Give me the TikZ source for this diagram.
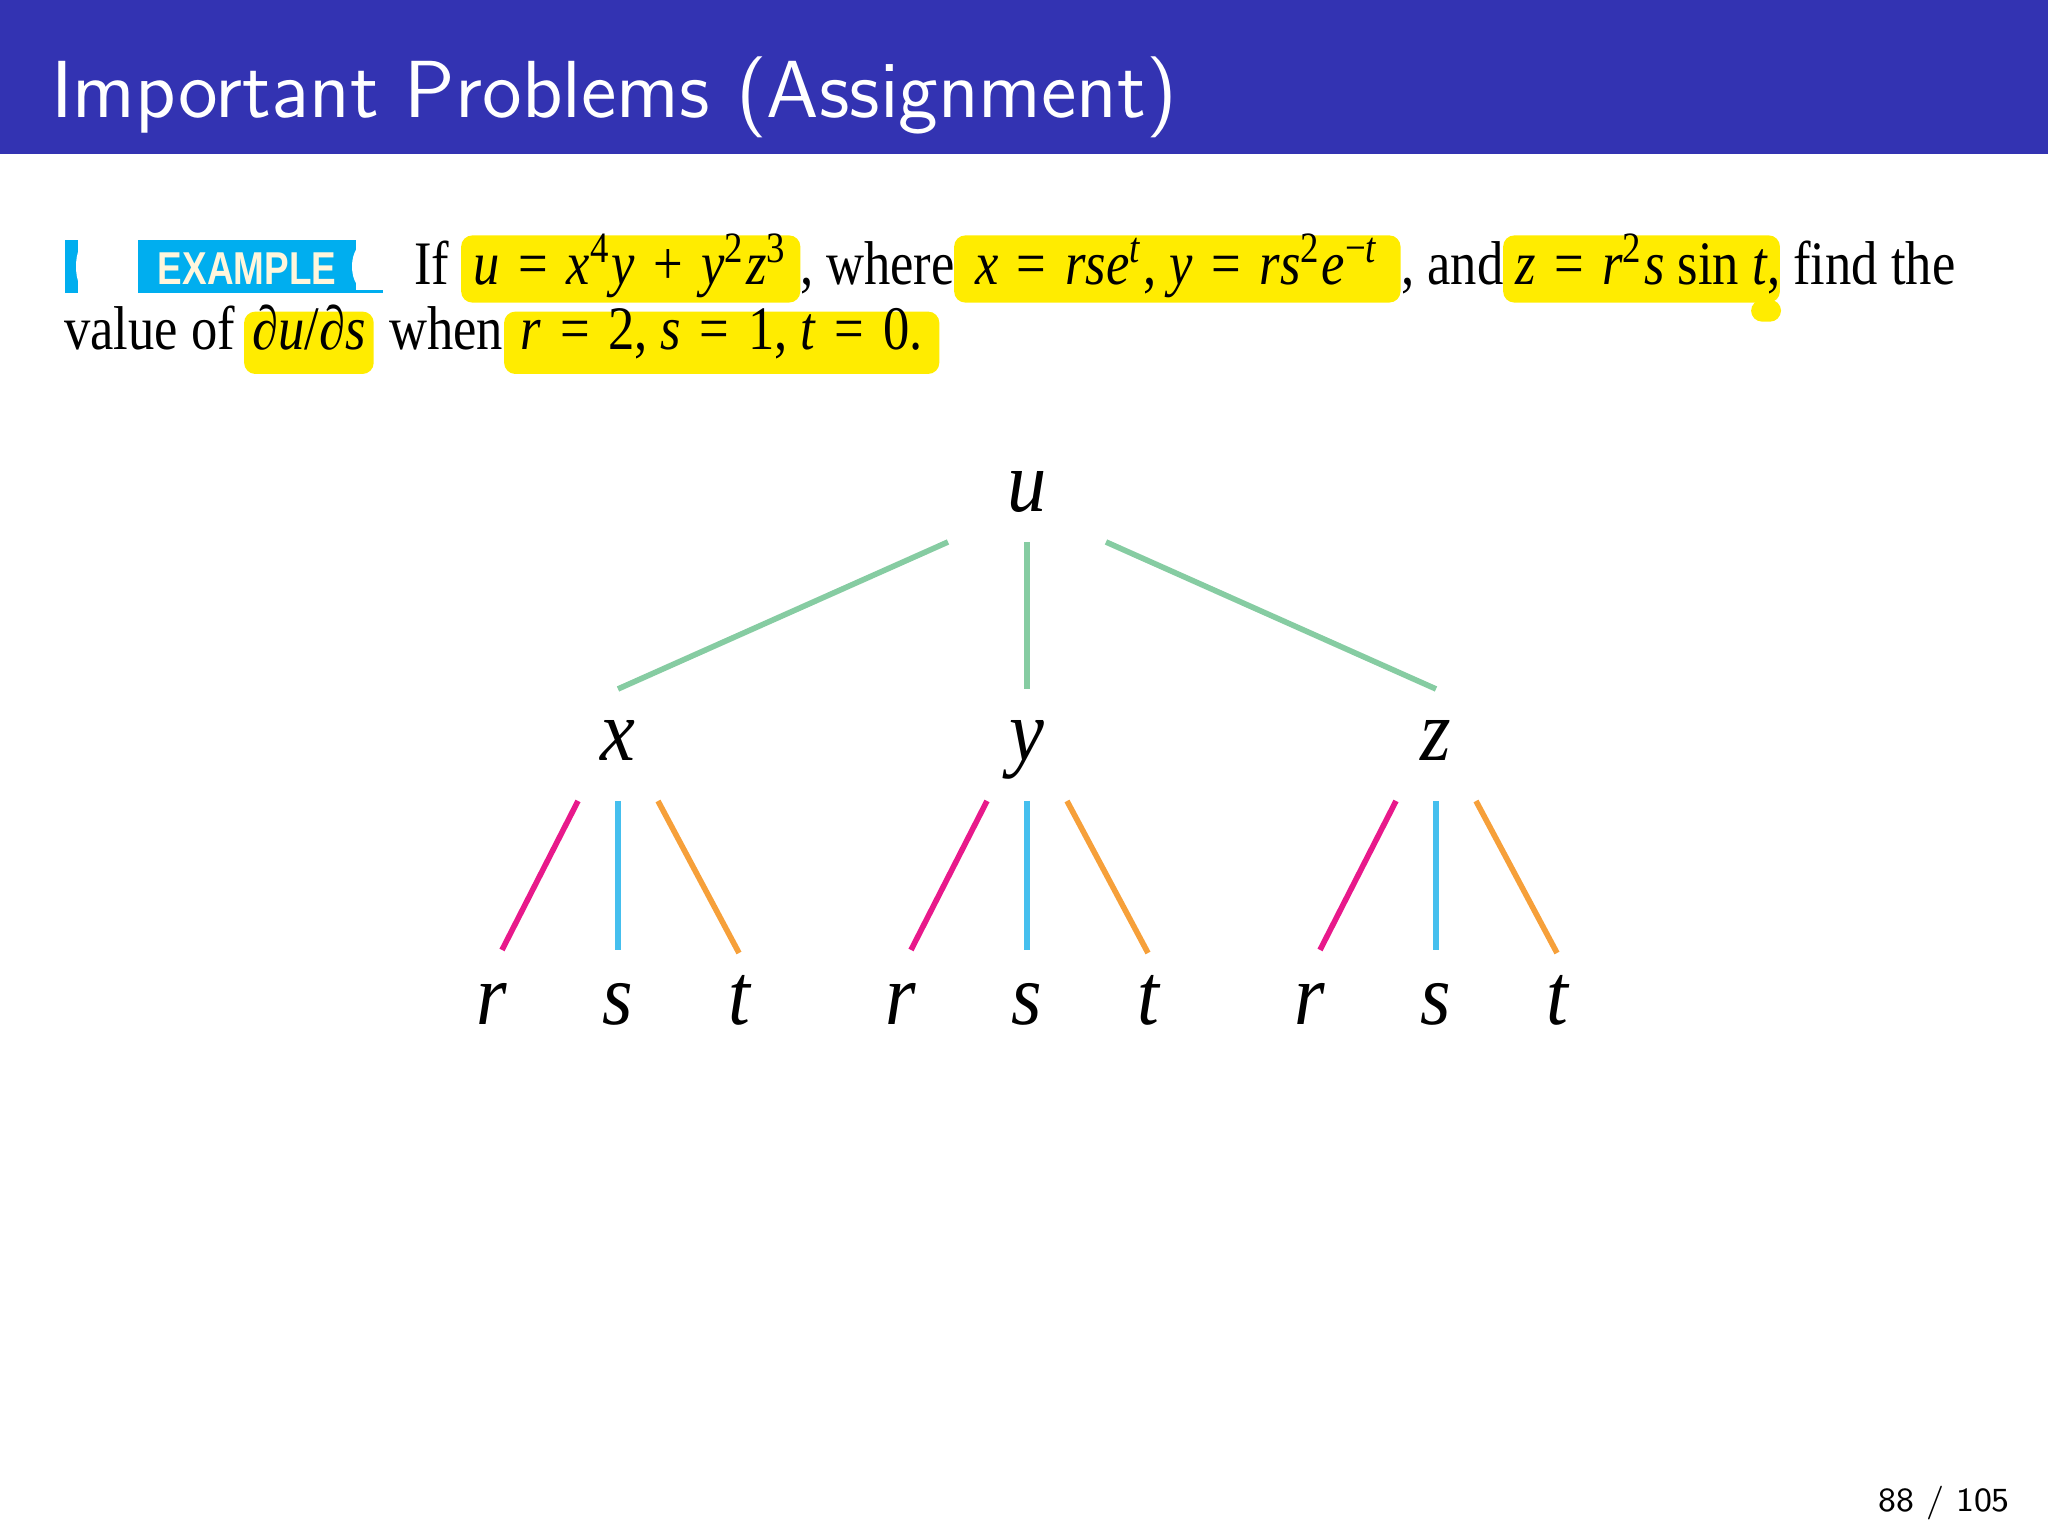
\documentclass[tikz,border=0pt]{standalone}
\usepackage{fontspec}
\setmainfont{Liberation Serif}
\newfontfamily\bookfont[FakeStretch=0.85]{Liberation Serif}
\newfontfamily\treefont[FakeStretch=0.9]{Liberation Serif}
\newfontfamily\badgefont[FakeStretch=0.8]{Liberation Sans}
\usetikzlibrary{positioning}
\usetikzlibrary{calc}
\definecolor{headblue}{rgb}{0.2,0.2,0.7}
\definecolor{hlyellow}{HTML}{FFEC00}
\definecolor{exblue}{HTML}{00AEEF}
\definecolor{excream}{HTML}{FFF6DC}
\definecolor{ucol}{HTML}{86CCA2}
\definecolor{rcol}{HTML}{E8198B}
\definecolor{scol}{HTML}{45BFEE}
\definecolor{tcol}{HTML}{F6A03A}
\newcommand\opsp{\hspace{0.3em}}

\begin{document}
\begin{tikzpicture}[x=0.0625mm, y=0.0625mm,
        txt/.style={anchor=base west, inner sep=0pt, font=\bookfont\fontsize{11}{13}\selectfont},
        hlone/.style={txt, fill=hlyellow, rounded corners=2pt, inner xsep=1pt, text height=3.1mm, text depth=1.1mm},
        hltwo/.style={txt, fill=hlyellow, rounded corners=2pt, inner xsep=1pt, text height=2.4mm, text depth=1.5mm},
        var/.style={anchor=base, inner sep=0pt, font=\treefont\itshape\fontsize{15.5}{16}\selectfont},
        uline/.style={draw=ucol, line width=1pt},
        rline/.style={draw=rcol, line width=1pt},
        sline/.style={draw=scol, line width=1pt},
        tline/.style={draw=tcol, line width=1pt}]
            \useasboundingbox (0,0) rectangle (2048,1536);
            \fill [headblue] (0,1382) rectangle (2048,1536);
            \node [anchor=base west, inner sep=0pt, text=white, font=\sffamily\fontsize{14.4}{17}\selectfont]
                (title) at (50,1418) {Important Problems (Assignment)};

            \fill [exblue] (65,1243) rectangle (78,1296);
            \fill [white] (86,1269.5) ellipse (10 and 24);
            \fill [exblue] (138,1243) rectangle (356,1296);
            \fill [white] (366,1269.5) ellipse (14 and 24);
            \fill [exblue] (352,1243) rectangle (383,1246);
            \node [anchor=base, inner sep=0pt, text=excream, font=\badgefont\bfseries\fontsize{8.2}{9}\selectfont]
                (badge) at (247,1251) {EXAMPLE};

            \node [txt] (if) at (413,1251) {If};
            \node [hlone, minimum width=21.2mm] (hlu) at (460,1251)
                {\textit{u}\opsp=\opsp\textit{x}\textsuperscript{4}\textit{y}\opsp+\opsp\textit{y}\textsuperscript{2}\textit{z}\textsuperscript{3}};
            \node [txt] (where) at (799,1251) {, where};
            \node [hlone, minimum width=27.9mm] (hlx) at (953,1251)
                {\textit{x}\opsp=\opsp\textit{rse}\textsuperscript{\textit{t}}, \textit{y}\opsp=\opsp\textit{rs}\textsuperscript{2}\textit{e}\textsuperscript{−\textit{t}}};
            \node [txt] (and) at (1400,1251) {, and};
            \node [hlone, minimum width=17.3mm] (hlz) at (1502,1251)
                {\textit{z}\opsp=\opsp\textit{r}\textsuperscript{2}\textit{s} sin \textit{t}};
            \fill [hlyellow, rounded corners=2pt] ([shift={(-30,4)}]hlz.south east) rectangle ([shift={(0,-18)}]hlz.south east);
            \node [txt] (find) at (1766,1251) {, find the};

            \node [txt] (value) at (63,1186) {value of};
            \node [hltwo, minimum width=8.1mm] (hlds) at (243,1186) {∂\textit{u}/∂\textit{s}};
            \node [txt] (when) at (388,1186) {when};
            \node [hltwo, minimum width=27.2mm] (hlrst) at (503,1186)
                {\textit{r}\opsp=\opsp2, \textit{s}\opsp=\opsp1, \textit{t}\opsp=\opsp0.};

            \node [var] (u) at (1027,1024) {u};
            \node [var] (x) at ($(u.base)+(-409,-249)$) {x};
            \node [var] (y) at ($(u.base)+(0,-249)$) {y};
            \node [var] (z) at ($(u.base)+(409,-249)$) {z};

            \node [var] (xr) at ($(x.base)+(-126,-264)$) {r};
            \node [var] (xs) at ($(x.base)+(0,-264)$) {s};
            \node [var] (xt) at ($(x.base)+(121,-264)$) {t};
            \node [var] (yr) at ($(y.base)+(-126,-264)$) {r};
            \node [var] (ys) at ($(y.base)+(0,-264)$) {s};
            \node [var] (yt) at ($(y.base)+(121,-264)$) {t};
            \node [var] (zr) at ($(z.base)+(-126,-264)$) {r};
            \node [var] (zs) at ($(z.base)+(0,-264)$) {s};
            \node [var] (zt) at ($(z.base)+(121,-264)$) {t};

            \draw [uline] ($(u.base)+(-79,-30)$) -- ($(x.base)+(0,72)$);
            \draw [uline] ($(u.base)+(0,-30)$) -- ($(y.base)+(0,72)$);
            \draw [uline] ($(u.base)+(79,-30)$) -- ($(z.base)+(0,72)$);

            \draw [rline] ($(x.base)+(-40,-40)$) -- ($(xr.base)+(10,75)$);
            \draw [sline] ($(x.base)+(0,-40)$) -- ($(xs.base)+(0,75)$);
            \draw [tline] ($(x.base)+(40,-40)$) -- ($(xt.base)+(0,72)$);
            \draw [rline] ($(y.base)+(-40,-40)$) -- ($(yr.base)+(10,75)$);
            \draw [sline] ($(y.base)+(0,-40)$) -- ($(ys.base)+(0,75)$);
            \draw [tline] ($(y.base)+(40,-40)$) -- ($(yt.base)+(0,72)$);
            \draw [rline] ($(z.base)+(-40,-40)$) -- ($(zr.base)+(10,75)$);
            \draw [sline] ($(z.base)+(0,-40)$) -- ($(zs.base)+(0,75)$);
            \draw [tline] ($(z.base)+(40,-40)$) -- ($(zt.base)+(0,72)$);

            \node [anchor=base east, inner sep=0pt, font=\sffamily\fontsize{6}{7}\selectfont]
                (pageno) at (2011,24) {88 / 105};
        \end{tikzpicture}
\end{document}
